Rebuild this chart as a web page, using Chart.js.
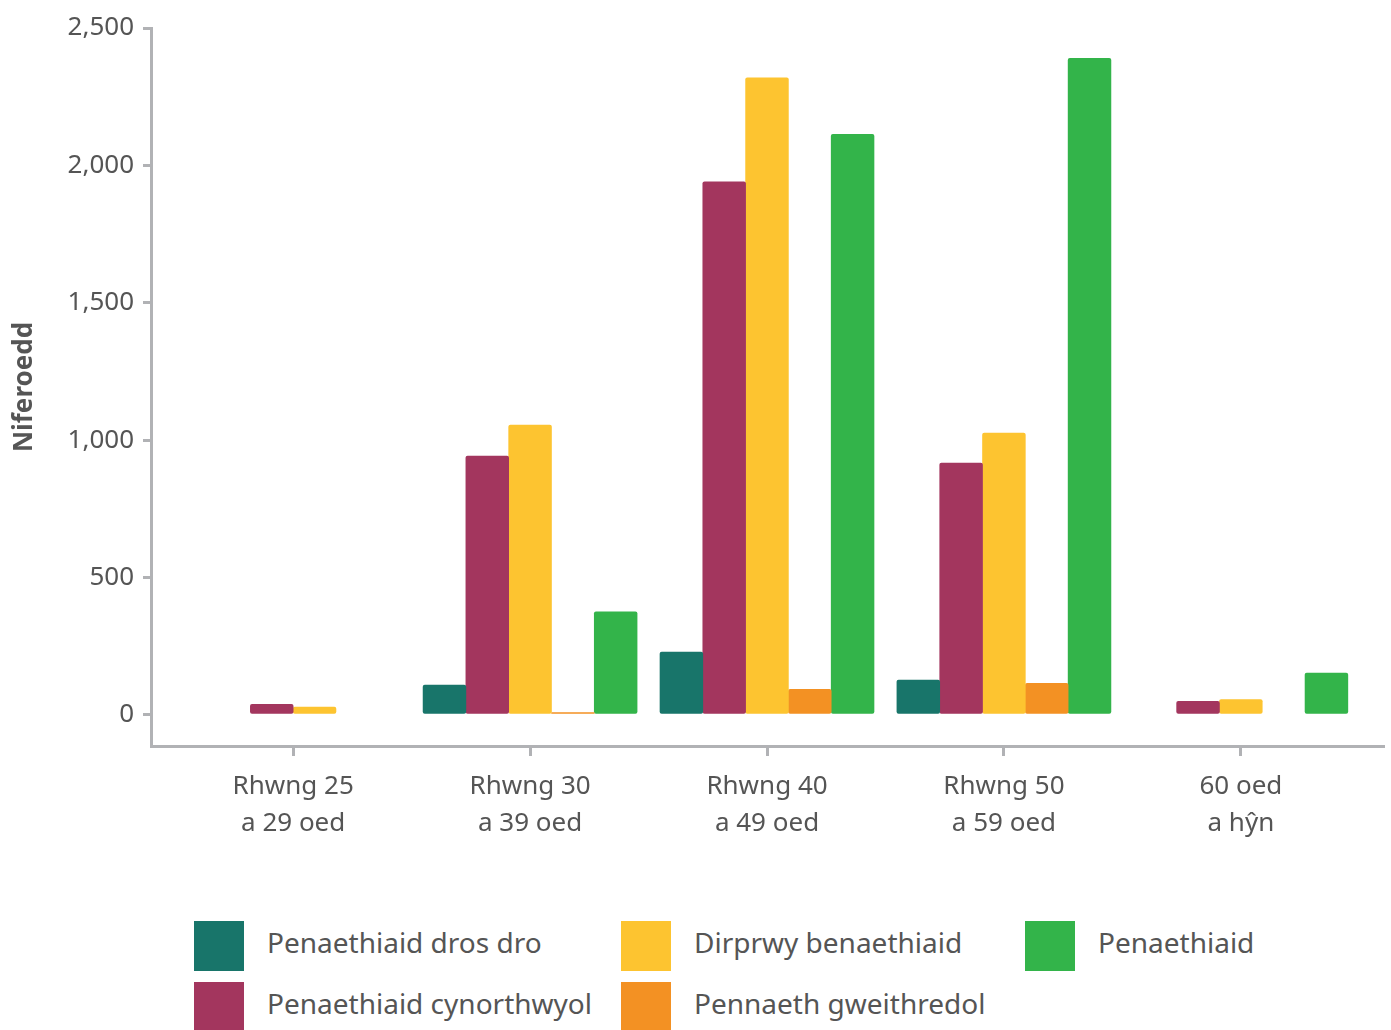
<!DOCTYPE html>
<html>
<head>
<meta charset="utf-8">
<script src="https://cdn.jsdelivr.net/npm/chart.js@4.4.1/dist/chart.umd.min.js"></script>
<style>
  body { margin: 0; background: #fff; font-family: "Noto Sans", sans-serif; }
  #wrap { position: absolute; left: 0; top: 0; width: 1391px; height: 880px; }
  #legend {
    position: absolute; left: 194px; top: 921px;
    display: grid; grid-auto-flow: column;
    grid-template-rows: 50px 50px; row-gap: 11px;
    grid-template-columns: 427px 404px auto;
  }
  .item { display: flex; align-items: center; }
  .box { width: 50px; height: 50px; margin-right: 23px; }
  .lbl { font-size: 28px; color: #555; margin-top: -8px; }
</style>
</head>
<body>
<div id="wrap"><canvas id="chartCanvas"></canvas></div>
<div id="legend"></div>
<script>
const categories = [
  ["Rhwng 25", "a 29 oed"],
  ["Rhwng 30", "a 39 oed"],
  ["Rhwng 40", "a 49 oed"],
  ["Rhwng 50", "a 59 oed"],
  ["60 oed", "a hŷn"]
];

const seriesNames = [
  "Penaethiaid dros dro",
  "Penaethiaid cynorthwyol",
  "Dirprwy benaethiaid",
  "Pennaeth gweithredol",
  "Penaethiaid"
];
const seriesColors = ["#18756a", "#a3365e", "#fdc430", "#f39123", "#33b44a"];

const actingHeads = [null, 109, 229, 127, 0];
const assistantHeads = [39, 942, 1940, 917, 50];
const deputyHeads = [29, 1055, 2319, 1026, 56];
const executiveHeads = [null, 9, 93, 115, 0];
const heads = [null, 375, 2113, 2390, 152];

const yTicks = [0, 500, 1000, 1500, 2000, 2500];

const seriesValues = [actingHeads, assistantHeads, deputyHeads, executiveHeads, heads];
const axisGray = "#b1b2b5";
const textGray = "#555555";

const datasets = seriesNames.map((name, i) => {
  return {
    label: name,
    data: seriesValues[i],
    // zero values keep their slot but show nothing
    backgroundColor: (c) => (c.raw === 0 ? "rgba(0,0,0,0)" : seriesColors[i]),
    borderWidth: 0,
    borderRadius: 2,
    borderSkipped: false,
    barThickness: 42.8,
    skipNull: true,
  };
});

const ctx = document.getElementById("chartCanvas").getContext("2d");
window.myChart = new Chart(ctx, {
  type: "bar",
  data: {
    labels: categories.map((c, i) => i),
    datasets: datasets,
  },
  options: {
    responsive: true,
    maintainAspectRatio: false,
    animation: false,
    layout: { padding: { top: 28, right: 8, left: 0, bottom: 0 } },
    plugins: {
      legend: { display: false },
      tooltip: { enabled: false },
    },
    scales: {
      x: {
        type: "linear",
        offset: false,
        min: -0.6,
        max: 4.6,
        afterBuildTicks: (scale) => {
          scale.ticks = categories.map((c, i) => ({ value: i }));
        },
        afterFit: (scale) => {
          scale.height = 134;
        },
        ticks: {
          callback: (v) => categories[v],
          font: { family: "Noto Sans", size: 26, lineHeight: 1.42 },
          color: textGray,
          padding: 12,
          maxRotation: 0,
          autoSkip: false,
        },
        grid: {
          offset: false,
          drawOnChartArea: false,
          tickLength: 10,
          color: axisGray,
          lineWidth: 3,
        },
        border: { color: axisGray, width: 3 },
      },
      y: {
        min: -113,
        max: 2500,
        afterBuildTicks: (scale) => {
          scale.ticks = yTicks.map((v) => ({ value: v }));
        },
        afterFit: (scale) => {
          scale.width = 151;
        },
        ticks: {
          callback: (v) => v.toLocaleString("en-GB"),
          font: { family: "Noto Sans", size: 26 },
          color: textGray,
          padding: 9,
        },
        grid: {
          drawOnChartArea: false,
          tickLength: 8,
          color: axisGray,
          lineWidth: 3,
        },
        border: { color: axisGray, width: 3 },
        title: {
          display: true,
          text: "Niferoedd",
          font: { family: "Noto Sans", size: 26, weight: "bold" },
          color: textGray,
          padding: { top: 9, bottom: 0 },
        },
      },
    },
  },
});

// legend drawn as html so the columns line up like the original
const legend = document.getElementById("legend");
seriesNames.forEach((name, i) => {
  const item = document.createElement("div");
  item.className = "item";
  const box = document.createElement("span");
  box.className = "box";
  box.style.background = seriesColors[i];
  const lbl = document.createElement("span");
  lbl.className = "lbl";
  lbl.textContent = name;
  item.appendChild(box);
  item.appendChild(lbl);
  legend.appendChild(item);
});
</script>
</body>
</html>
